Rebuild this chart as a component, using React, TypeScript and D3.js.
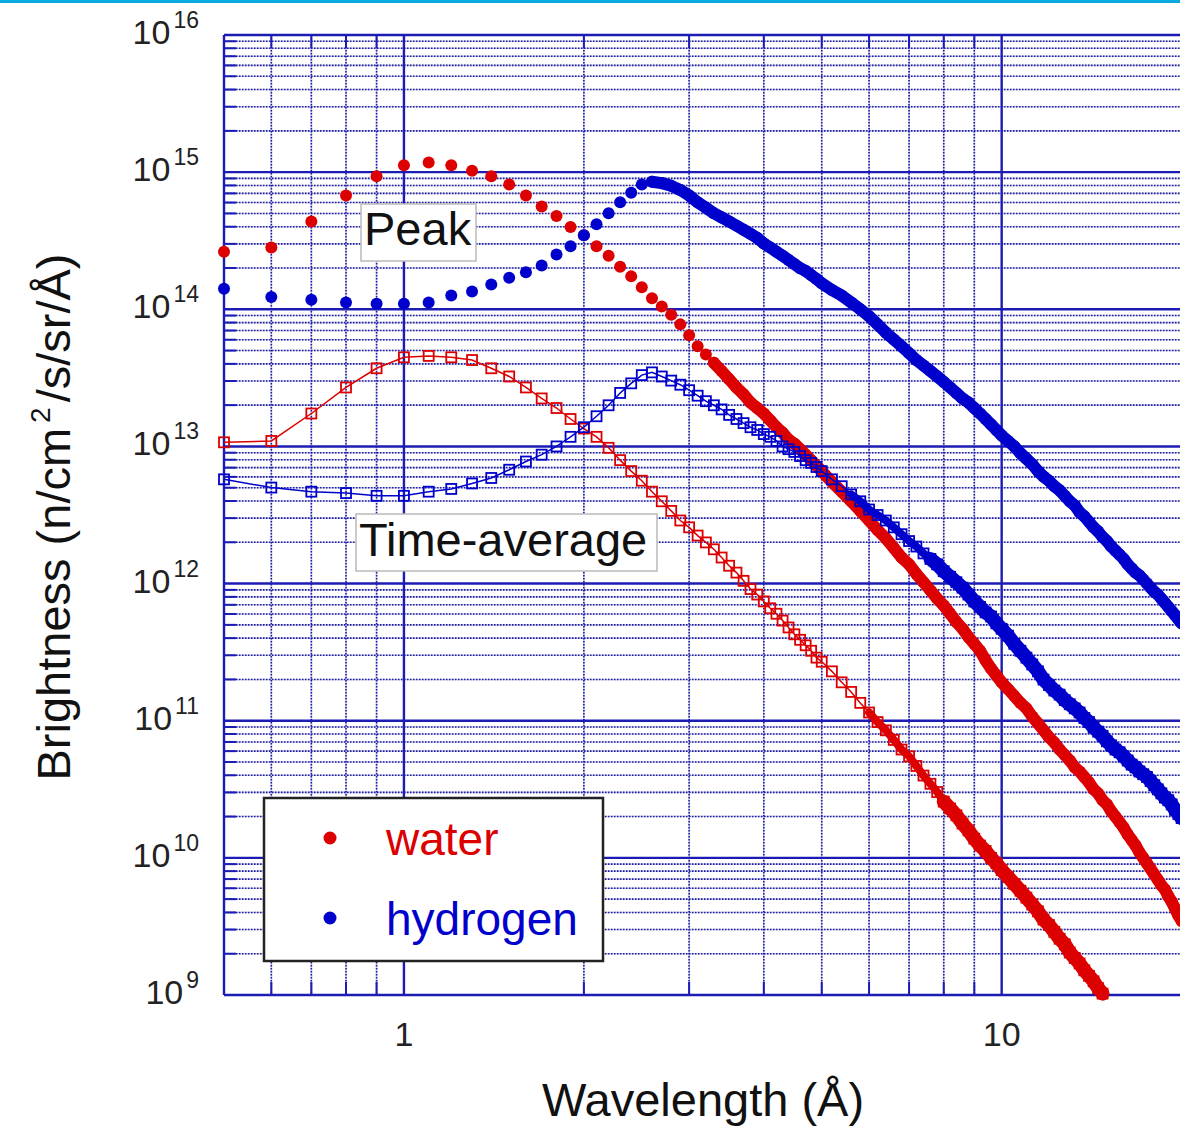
import React from 'react'
import * as d3 from 'd3'

// Wavelength grid (Å) of the calculation
const wavelength = [
  0.5, 0.6, 0.7, 0.8, 0.9, 1.0,
  1.1, 1.2, 1.3, 1.4, 1.5, 1.6, 1.7, 1.8, 1.9, 2.0,
  2.1, 2.2, 2.3, 2.4, 2.5, 2.6, 2.7, 2.8, 2.9, 3.0,
  3.1, 3.2, 3.3, 3.4, 3.5, 3.6, 3.7, 3.8, 3.9, 4.0,
  4.1, 4.2, 4.3, 4.4, 4.5, 4.6, 4.7, 4.8, 4.9, 5.0,
  5.2, 5.4, 5.6, 5.8, 6.0, 6.2, 6.4, 6.6, 6.8, 7.0,
  7.2, 7.4, 7.6, 7.8, 8.0, 8.2, 8.4, 8.6, 8.8, 9.0,
  9.2, 9.4, 9.6, 9.8, 10.0,
  10.25, 10.5, 10.75, 11, 11.25, 11.5, 11.75, 12,
  12.25, 12.5, 12.75, 13, 13.25, 13.5, 13.75, 14,
  14.25, 14.5, 14.75, 15, 15.25, 15.5, 15.75, 16,
  16.25, 16.5, 16.75, 17, 17.25, 17.5, 17.75, 18,
  18.25, 18.5, 18.75, 19, 19.25, 19.5, 19.75, 20,
]

// log10 of brightness (n/cm2/s/sr/Å)
const peakWater = [
  14.42, 14.45, 14.64, 14.83, 14.97, 15.05,
  15.07, 15.05, 15.01, 14.97, 14.91, 14.83, 14.75, 14.68, 14.60, 14.54,
  14.46, 14.39, 14.31, 14.24, 14.16, 14.08, 14.02, 13.96, 13.89, 13.81,
  13.73, 13.67, 13.61, 13.55, 13.49, 13.43, 13.38, 13.32, 13.28, 13.24,
  13.19, 13.14, 13.10, 13.05, 13.02, 12.98, 12.94, 12.90, 12.86, 12.82,
  12.74, 12.67, 12.60, 12.53, 12.46, 12.39, 12.33, 12.26, 12.19, 12.14,
  12.07, 12.01, 11.95, 11.89, 11.84, 11.78, 11.72, 11.67, 11.61, 11.56,
  11.51, 11.44, 11.38, 11.33, 11.28,
  11.23, 11.18, 11.13, 11.09, 11.03, 10.98, 10.93, 10.88,
  10.84, 10.79, 10.75, 10.71, 10.66, 10.63, 10.59, 10.55,
  10.50, 10.47, 10.42, 10.39, 10.34, 10.30, 10.26, 10.22,
  10.17, 10.13, 10.09, 10.04, 10.00, 9.96, 9.92, 9.88,
  9.84, 9.80, 9.77, 9.72, 9.68, 9.63, 9.58, 9.54,
]

const peakHydrogen = [
  14.15, 14.09, 14.07, 14.05, 14.04, 14.04,
  14.05, 14.10, 14.13, 14.18, 14.23, 14.27, 14.32, 14.40, 14.46, 14.54,
  14.62, 14.70, 14.78, 14.85, 14.91, 14.93, 14.92, 14.90, 14.87, 14.83,
  14.78, 14.74, 14.70, 14.67, 14.64, 14.61, 14.58, 14.55, 14.52, 14.48,
  14.45, 14.42, 14.39, 14.36, 14.33, 14.30, 14.28, 14.25, 14.22, 14.19,
  14.14, 14.10, 14.05, 14.00, 13.95, 13.89, 13.83, 13.78, 13.73, 13.68,
  13.63, 13.59, 13.55, 13.51, 13.47, 13.43, 13.39, 13.35, 13.32, 13.28,
  13.24, 13.20, 13.16, 13.12, 13.08,
  13.04, 13.00, 12.95, 12.91, 12.87, 12.82, 12.78, 12.75,
  12.71, 12.68, 12.64, 12.60, 12.57, 12.52, 12.49, 12.45,
  12.41, 12.38, 12.34, 12.31, 12.27, 12.24, 12.21, 12.18,
  12.14, 12.11, 12.08, 12.06, 12.03, 12.00, 11.97, 11.94,
  11.92, 11.89, 11.86, 11.83, 11.80, 11.77, 11.74, 11.71,
]

const avgWater = [
  13.03, 13.04, 13.24, 13.43, 13.57, 13.65,
  13.66, 13.65, 13.63, 13.57, 13.51, 13.43, 13.35, 13.28, 13.20, 13.13,
  13.07, 12.99, 12.90, 12.82, 12.75, 12.67, 12.60, 12.53, 12.46, 12.41,
  12.35, 12.30, 12.25, 12.19, 12.13, 12.08, 12.02, 11.96, 11.92, 11.87,
  11.82, 11.78, 11.73, 11.68, 11.63, 11.59, 11.55, 11.51, 11.46, 11.43,
  11.36, 11.28, 11.21, 11.13, 11.06, 10.99, 10.93, 10.86, 10.79, 10.74,
  10.67, 10.60, 10.54, 10.48, 10.41, 10.36, 10.31, 10.25, 10.20, 10.14,
  10.09, 10.05, 10.00, 9.96, 9.91,
  9.86, 9.81, 9.76, 9.71, 9.66, 9.61, 9.55, 9.51,
  9.46, 9.41, 9.37, 9.31, 9.27, 9.23, 9.18, 9.14,
  9.10, 9.05, 9.01,
]

const avgHydrogen = [
  12.76, 12.70, 12.67, 12.66, 12.64, 12.64,
  12.67, 12.69, 12.73, 12.77, 12.83, 12.89, 12.94, 13.00, 13.07, 13.14,
  13.22, 13.30, 13.39, 13.46, 13.52, 13.54, 13.51, 13.48, 13.45, 13.41,
  13.37, 13.33, 13.30, 13.27, 13.23, 13.20, 13.17, 13.14, 13.12, 13.09,
  13.07, 13.04, 13.00, 12.98, 12.96, 12.93, 12.90, 12.88, 12.85, 12.82,
  12.76, 12.71, 12.65, 12.60, 12.54, 12.50, 12.46, 12.41, 12.36, 12.31,
  12.27, 12.22, 12.18, 12.14, 12.09, 12.05, 12.01, 11.97, 11.92, 11.87,
  11.83, 11.79, 11.76, 11.71, 11.67,
  11.62, 11.56, 11.51, 11.46, 11.41, 11.36, 11.30, 11.26,
  11.22, 11.19, 11.15, 11.12, 11.09, 11.06, 11.02, 10.99,
  10.95, 10.92, 10.89, 10.85, 10.82, 10.79, 10.77, 10.74,
  10.71, 10.68, 10.66, 10.63, 10.61, 10.59, 10.56, 10.53,
  10.50, 10.47, 10.44, 10.42, 10.39, 10.35, 10.32, 10.29,
]

const xMajor = [1, 10]
const xMinor = [0.6, 0.7, 0.8, 0.9, 2, 3, 4, 5, 6, 7, 8, 9]
const yExponents = [9, 10, 11, 12, 13, 14, 15, 16]
const xTickLabels = [{ v: 1, t: '1' }, { v: 10, t: '10' }]

const RED = '#dd0000'
const BLUE = '#0000cc'
const GRID = '#1c1cb4'
const HALO = '#c6c6d6'
const FONT = '"Liberation Sans", Arial, Helvetica, sans-serif'

const W = 1180
const H = 1126

const x = d3.scaleLog().domain([0.5, 20]).range([224, 1181.6])
const y = d3.scaleLog().domain([1e9, 1e16]).range([995, 35])

type Pt = { lx: number; b: number }

const toPoints = (vals: number[]): Pt[] =>
  vals.map((v, i) => ({ lx: wavelength[i], b: Math.pow(10, v) }))
    .filter(p => p.b >= 1e9)

const App = () => {
  const x0 = x(0.5)
  const x1 = x(20)
  const yTop = y(1e16)
  const yBot = y(1e9)

  const yMinor: number[] = []
  yExponents.slice(0, -1).forEach(e => {
    for (let k = 2; k <= 9; k++) yMinor.push(k * Math.pow(10, e))
  })

  const line = d3.line<Pt>()
    .x(d => x(d.lx))
    .y(d => y(d.b))

  const pw = toPoints(peakWater)
  const ph = toPoints(peakHydrogen)
  const tw = toPoints(avgWater)
  const th = toPoints(avgHydrogen)

  // where the markers overlap into a continuous band in the original
  const band = (pts: Pt[], from: number, color: string, w: number) => (
    <path d={line(pts.filter(d => d.lx >= from)) || ''} fill="none" stroke={color}
      strokeWidth={w} strokeLinejoin="round" strokeLinecap="round" />
  )

  const squares = (pts: Pt[], color: string) =>
    pts.map((d, i) => (
      <rect key={i} x={x(d.lx) - 5} y={y(d.b) - 5} width={10} height={10}
        fill="none" stroke={color} strokeWidth={1.8} />
    ))

  const circles = (pts: Pt[], color: string) =>
    pts.map((d, i) => (
      <circle key={i} cx={x(d.lx)} cy={y(d.b)} r={6} fill={color} />
    ))

  return (
    <div style={{ position: 'absolute', left: 0, top: 0 }}>
      <svg width={W} height={H} style={{ display: 'block', background: '#fff', fontFamily: FONT }}>
        {/* page rule at the top */}
        <rect x={0} y={0} width={W} height={3} fill="#0aa9e0" />

        {/* minor grid: grey line with blue dots */}
        <g stroke={HALO} strokeWidth={1.6}>
          {yMinor.map(v => (
            <line key={'hy' + v} x1={x0} x2={x1} y1={y(v)} y2={y(v)} />
          ))}
          {xMinor.map(v => (
            <line key={'vx' + v} x1={x(v)} x2={x(v)} y1={yTop} y2={yBot} />
          ))}
        </g>
        <g stroke={GRID} strokeWidth={1.6} strokeDasharray="1.5 1.5">
          {yMinor.map(v => (
            <line key={'hy' + v} x1={x0} x2={x1} y1={y(v)} y2={y(v)} />
          ))}
          {xMinor.map(v => (
            <line key={'vx' + v} x1={x(v)} x2={x(v)} y1={yTop} y2={yBot} />
          ))}
        </g>

        {/* minor ticks */}
        <g stroke={GRID} strokeWidth={2}>
          {yMinor.map(v => (
            <line key={'ty' + v} x1={x0} x2={x0 + 12} y1={y(v)} y2={y(v)} />
          ))}
          {xMinor.map(v => (
            <g key={'tx' + v}>
              <line x1={x(v)} x2={x(v)} y1={yBot} y2={yBot - 13} />
              <line x1={x(v)} x2={x(v)} y1={yTop} y2={yTop + 13} />
            </g>
          ))}
        </g>

        {/* major grid and frame */}
        <g stroke={GRID} strokeWidth={2.4}>
          {yExponents.map(e => (
            <line key={'my' + e} x1={x0} x2={x1} y1={y(Math.pow(10, e))} y2={y(Math.pow(10, e))} />
          ))}
          {xMajor.map(v => (
            <line key={'mx' + v} x1={x(v)} x2={x(v)} y1={yTop} y2={yBot} />
          ))}
          <line x1={x0} x2={x0} y1={yTop} y2={yBot} />
          <line x1={x1} x2={x1} y1={yTop} y2={yBot} />
        </g>

        {/* series */}
        <g>
          {band(pw, 3.3, RED, 12)}
          {circles(pw, RED)}
        </g>
        <g>
          <path d={line(tw) || ''} fill="none" stroke={RED} strokeWidth={1.5} />
          {band(tw, 6.0, RED, 8)}
          {band(tw, 8.0, RED, 14)}
          {squares(tw, RED)}
        </g>
        <g>
          {band(ph, 2.6, BLUE, 12)}
          {circles(ph, BLUE)}
        </g>
        <g>
          <path d={line(th) || ''} fill="none" stroke={BLUE} strokeWidth={1.5} />
          {band(th, 5.6, BLUE, 8)}
          {band(th, 7.6, BLUE, 14)}
          {squares(th, BLUE)}
        </g>

        {/* annotations */}
        <rect x={361} y={204} width={115} height={57} fill="#fff" stroke="#bbbbbb" strokeWidth={1.5} />
        <text x={364} y={245} fontSize={47} fill="#111">Peak</text>
        <rect x={356} y={514} width={301} height={57} fill="#fff" stroke="#bbbbbb" strokeWidth={1.5} />
        <text x={359} y={556} fontSize={47} fill="#111">Time-average</text>

        {/* legend */}
        <rect x={264} y={798} width={339} height={163} fill="#fff" stroke="#222" strokeWidth={2.5} />
        <circle cx={330} cy={838} r={6.5} fill={RED} />
        <text x={386} y={855} fontSize={46} fill={RED}>water</text>
        <circle cx={330} cy={918} r={6.5} fill={BLUE} />
        <text x={386} y={935} fontSize={46} fill={BLUE}>hydrogen</text>

        {/* y tick labels */}
        {yExponents.map(e => (
          <text key={'ly' + e} x={199} y={y(Math.pow(10, e)) + 9} textAnchor="end" fill="#222">
            <tspan fontSize={34}>10</tspan>
            <tspan fontSize={23} dx={3} dy={-16}>{e}</tspan>
          </text>
        ))}

        {/* x tick labels */}
        {xTickLabels.map(t => (
          <text key={'lx' + t.v} x={x(t.v)} y={1046} textAnchor="middle" fontSize={34} fill="#222">{t.t}</text>
        ))}

        {/* axis titles */}
        <text x={703} y={1116} textAnchor="middle" fontSize={47} fill="#111">Wavelength (Å)</text>
        <text transform="translate(70,517) rotate(-90)" textAnchor="middle" fontSize={47} fill="#111">
          <tspan>Brightness (n/cm</tspan>
          <tspan fontSize={28} dx={5} dy={-20}>2</tspan>
          <tspan dx={5} dy={20}>/s/sr/Å)</tspan>
        </text>
      </svg>
    </div>
  )
}

export default App
